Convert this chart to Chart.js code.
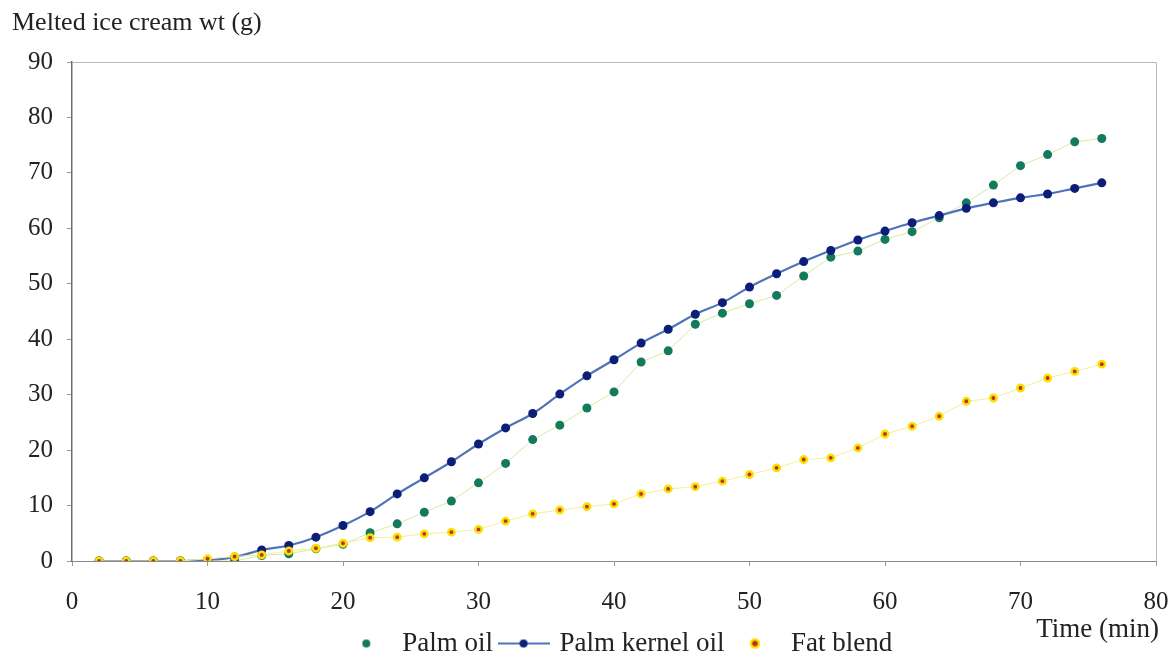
<!DOCTYPE html>
<html>
<head>
<meta charset="utf-8">
<script src="https://cdn.jsdelivr.net/npm/chart.js@4.4.1/dist/chart.umd.min.js"></script>
<style>
  html, body { margin: 0; padding: 0; background: #fff; }
  #wrap { width: 1176px; height: 659px; position: relative; }
</style>
</head>
<body>
<div id="wrap"><canvas id="meltChart"></canvas></div>
<script>
const timeMin = [2, 4, 6, 8, 10, 12, 14, 16, 18, 20, 22, 24, 26, 28, 30, 32, 34, 36, 38,
                 40, 42, 44, 46, 48, 50, 52, 54, 56, 58, 60, 62, 64, 66, 68, 70, 72, 74, 76];
const palmOil = [0, 0, 0, 0, 0, 0, 1.0, 1.3, 2.2, 3.0, 5.1, 6.7, 8.8, 10.8, 14.1, 17.6, 21.9, 24.5, 27.6,
                 30.5, 35.9, 37.9, 42.7, 44.7, 46.4, 47.9, 51.4, 54.8, 55.9, 58.0, 59.4, 61.9, 64.6, 67.8, 71.3, 73.3, 75.6, 76.2];
const palmKernelOil = [0, 0, 0, 0, 0.2, 0.7, 2.0, 2.8, 4.3, 6.4, 8.9, 12.1, 15.0, 17.9, 21.1, 24.0, 26.6, 30.1, 33.4,
                 36.3, 39.3, 41.8, 44.5, 46.6, 49.4, 51.8, 54.0, 56.0, 57.9, 59.5, 61.0, 62.3, 63.6, 64.6, 65.5, 66.2, 67.2, 68.2];
const fatBlend = [0, 0, 0, 0, 0.4, 0.8, 1.1, 1.8, 2.3, 3.2, 4.2, 4.3, 4.9, 5.2, 5.7, 7.2, 8.5, 9.2, 9.8,
                 10.3, 12.1, 13.0, 13.4, 14.4, 15.6, 16.8, 18.3, 18.6, 20.4, 22.9, 24.3, 26.1, 28.8, 29.4, 31.2, 33.0, 34.2, 35.5];
const yTicks = [0, 10, 20, 30, 40, 50, 60, 70, 80, 90];
const xTicks = [0, 10, 20, 30, 40, 50, 60, 70, 80];

const serif = '"Liberation Serif", "Times New Roman", serif';
const toPoints = arr => arr.map((v, i) => ({ x: timeMin[i], y: v }));

// little legend swatches
function swatch(w, fill, stroke, borderW, line) {
    const c = document.createElement('canvas');
    c.width = w; c.height = 14;
    const g = c.getContext('2d');
    if (line) {
        g.strokeStyle = line; g.lineWidth = 2;
        g.beginPath(); g.moveTo(0, 7); g.lineTo(w, 7); g.stroke();
    }
    g.beginPath(); g.arc(w / 2, 7, 4, 0, Math.PI * 2);
    g.fillStyle = fill; g.fill();
    if (borderW) { g.lineWidth = borderW; g.strokeStyle = stroke; g.stroke(); }
    return c;
}
const legendIcons = [
    swatch(40, '#137a5c', null, 0, null),
    swatch(52, '#0c1e78', null, 0, '#4f73b8'),
    swatch(40, '#c0301c', '#f5e200', 2.5, null)
];

const framePlugin = {
    id: 'frame',
    afterLayout(chart) {
        // nudge the legend, as in the original figure
        chart.legend.left += 26;
        chart.legend.right += 26;
        chart.legend.top += 8;
        chart.legend.bottom += 8;
    },
    afterDraw(chart) {
        const { ctx, chartArea: a } = chart;
        ctx.save();
        ctx.strokeStyle = '#b8bcb0';
        ctx.lineWidth = 1;
        ctx.beginPath();
        ctx.moveTo(a.left, a.top + 0.5); ctx.lineTo(a.right + 0.5, a.top + 0.5);
        ctx.lineTo(a.right + 0.5, a.bottom);
        ctx.stroke();
        ctx.fillStyle = '#222';
        ctx.font = '26px ' + serif;
        ctx.textBaseline = 'middle';
        ctx.textAlign = 'left';
        ctx.fillText('Melted ice cream wt (g)', 12, 23);
        ctx.textAlign = 'right';
        ctx.font = '27px ' + serif;
        ctx.fillText('Time (min)', 1159, 630);
        ctx.restore();
    }
};

new Chart(document.getElementById('meltChart'), {
    type: 'line',
    data: {
        datasets: [{
            label: 'Palm oil',
            data: toPoints(palmOil),
            borderColor: '#d6eba0',
            borderWidth: 1,
            pointBackgroundColor: '#137a5c',
            pointBorderWidth: 0,
            pointRadius: 4.5,
            tension: 0,
            order: 2
        }, {
            label: 'Palm kernel oil',
            data: toPoints(palmKernelOil),
            borderColor: '#4f73b8',
            borderWidth: 2.2,
            pointBackgroundColor: '#0c1e78',
            pointBorderWidth: 0,
            pointRadius: 4.5,
            tension: 0.4,
            order: 1
        }, {
            label: 'Fat blend',
            data: toPoints(fatBlend),
            borderColor: '#f3ee9c',
            borderWidth: 1,
            pointBackgroundColor: '#c0301c',
            pointBorderColor: '#f5e200',
            pointBorderWidth: 2.5,
            pointRadius: 3.2,
            tension: 0,
            order: 0
        }]
    },
    options: {
        responsive: true,
        maintainAspectRatio: false,
        animation: false,
        layout: { padding: { left: 28, right: 20, top: 62, bottom: 0 } },
        scales: {
            x: {
                type: 'linear',
                min: 0, max: 80,
                afterBuildTicks: s => { s.ticks = xTicks.map(v => ({ value: v })); },
                afterFit: s => { s.height = 53; s.paddingLeft = 0; s.paddingRight = 0; },
                grid: { drawOnChartArea: false, drawTicks: true, tickLength: 5, color: '#9a9a9a' },
                border: { color: '#8a8a8a', width: 1 },
                ticks: { padding: 21, color: '#222', font: { family: serif, size: 25 } }
            },
            y: {
                min: 0, max: 90,
                afterBuildTicks: s => { s.ticks = yTicks.map(v => ({ value: v })); },
                afterFit: s => { s.width = 44; s.paddingTop = 0; s.paddingBottom = 0; },
                grid: { drawOnChartArea: false, drawTicks: true, tickLength: 5, color: '#9a9a9a' },
                border: { color: '#6e6e6e', width: 1.5 },
                ticks: { padding: 14, color: '#222', font: { family: serif, size: 25 } }
            }
        },
        plugins: {
            tooltip: { enabled: false },
            legend: {
                position: 'bottom',
                labels: {
                    usePointStyle: true,
                    pointStyleWidth: 45,
                    padding: 8,
                    color: '#222',
                    font: { family: serif, size: 27 },
                    sort: (a, b) => a.datasetIndex - b.datasetIndex,
                    generateLabels(chart) {
                        return chart.data.datasets.map((ds, i) => ({
                            text: ds.label,
                            datasetIndex: i,
                            pointStyle: legendIcons[i],
                            fillStyle: 'transparent',
                            strokeStyle: 'transparent',
                            lineWidth: 0,
                            fontColor: '#222',
                            hidden: false
                        }));
                    }
                }
            }
        }
    },
    plugins: [framePlugin]
});
</script>
</body>
</html>
